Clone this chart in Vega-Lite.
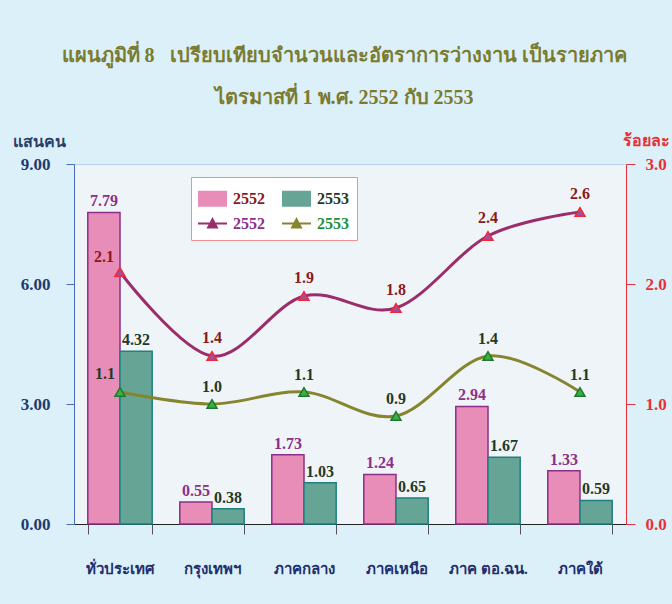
{
  "$schema": "https://vega.github.io/schema/vega-lite/v6.json",
  "width": 552,
  "height": 360,
  "autosize": {"type": "none"},
  "padding": {"left": 74, "top": 164, "right": 46, "bottom": 80},
  "background": "#DBF0F8",
  "config": {"view": {"fill": "#EFF4F9", "stroke": "#B8D4EC"}, "font": "Liberation Serif, serif"},
  "title": {
    "text": ["แผนภูมิที่ 8 \u00a0 เปรียบเทียบจำนวนและอัตราการว่างงาน เป็นรายภาค", "ไตรมาสที่ 1 พ.ศ. 2552 กับ 2553"],
    "color": "#7B7B2F",
    "fontSize": 20,
    "fontWeight": "bold",
    "font": "Liberation Serif, serif",
    "lineHeight": 42,
    "anchor": "middle",
    "dx": -6,
    "offset": 24
  },
  "data": {
    "values": [
      {"region": "ทั่วประเทศ", "year": "2552", "count": 7.79, "rate": 2.1, "bar": "bar 2552", "line": "line 2552"},
      {"region": "ทั่วประเทศ", "year": "2553", "count": 4.32, "rate": 1.1, "bar": "bar 2553", "line": "line 2553"},
      {"region": "กรุงเทพฯ", "year": "2552", "count": 0.55, "rate": 1.4, "bar": "bar 2552", "line": "line 2552"},
      {"region": "กรุงเทพฯ", "year": "2553", "count": 0.38, "rate": 1.0, "bar": "bar 2553", "line": "line 2553"},
      {"region": "ภาคกลาง", "year": "2552", "count": 1.73, "rate": 1.9, "bar": "bar 2552", "line": "line 2552"},
      {"region": "ภาคกลาง", "year": "2553", "count": 1.03, "rate": 1.1, "bar": "bar 2553", "line": "line 2553"},
      {"region": "ภาคเหนือ", "year": "2552", "count": 1.24, "rate": 1.8, "bar": "bar 2552", "line": "line 2552"},
      {"region": "ภาคเหนือ", "year": "2553", "count": 0.65, "rate": 0.9, "bar": "bar 2553", "line": "line 2553"},
      {"region": "ภาค ตอ.ฉน.", "year": "2552", "count": 2.94, "rate": 2.4, "bar": "bar 2552", "line": "line 2552"},
      {"region": "ภาค ตอ.ฉน.", "year": "2553", "count": 1.67, "rate": 1.4, "bar": "bar 2553", "line": "line 2553"},
      {"region": "ภาคใต้", "year": "2552", "count": 1.33, "rate": 2.6, "bar": "bar 2552", "line": "line 2552"},
      {"region": "ภาคใต้", "year": "2553", "count": 0.59, "rate": 1.1, "bar": "bar 2553", "line": "line 2553"}
    ]
  },
  "encoding": {
    "x": {
      "field": "region",
      "type": "nominal",
      "scale": {"domain": ["ทั่วประเทศ", "กรุงเทพฯ", "ภาคกลาง", "ภาคเหนือ", "ภาค ตอ.ฉน.", "ภาคใต้"], "paddingInner": 0.3, "paddingOuter": 0.15},
      "axis": {
        "title": null,
        "labelAngle": 0,
        "tickBand": "extent",
        "domainColor": "#222222",
        "tickColor": "#555555",
        "tickSize": 10,
        "labelFontSize": 15,
        "labelFontWeight": "bold",
        "labelColor": "#1F2F6E",
        "labelPadding": 27
      }
    }
  },
  "layer": [
    {
      "encoding": {
        "y": {
          "field": "count",
          "type": "quantitative",
          "scale": {"domain": [0, 9]},
          "axis": {
            "orient": "left",
            "values": [0, 3, 6, 9],
            "format": ".2f",
            "grid": false,
            "title": "แสนคน",
            "titleAngle": 0,
            "titleX": -62,
            "titleY": -18,
            "titleAlign": "left",
            "titleBaseline": "alphabetic",
            "titleColor": "#2A3F6A",
            "titleFontSize": 16,
            "titleFontWeight": "bold",
            "domainColor": "#4A6CC0",
            "tickColor": "#4A6CC0",
            "tickSize": 8,
            "labelPadding": 16,
            "labelColor": "#1F3A6E",
            "labelFontSize": 17,
            "labelFontWeight": "bold"
          }
        },
        "xOffset": {"field": "year", "type": "nominal", "scale": {"domain": ["2552", "2553"], "paddingInner": 0}}
      },
      "layer": [
        {
          "mark": {"type": "bar", "strokeWidth": 1.5},
          "encoding": {
            "color": {
              "field": "bar",
              "type": "nominal",
              "scale": {"domain": ["bar 2552", "bar 2553", "line 2552", "line 2553"], "range": ["#E88DB8", "#66A596", "#9B2D6B", "#85852E"]},
              "legend": {
                "title": null,
                "orient": "none",
                "legendX": 117,
                "legendY": 13,
                "direction": "horizontal",
                "columns": 2,
                "columnPadding": 13,
                "rowPadding": 0,
                "padding": 8,
                "fillColor": "#FFFFFF",
                "strokeColor": "#F09090",
                "labelFontSize": 16,
                "labelFontWeight": "bold",
                "labelOffset": 7,
                "symbolSize": 625,
                "symbolStrokeWidth": 2,
                "labelExpr": "slice(datum.label, -4)",
                "encode": {
                  "symbols": {
                    "update": {
                      "shape": {"signal": "indexof(datum.value, 'bar') === 0 ? 'M-1.08,-0.56H1.08V0.56H-1.08Z' : 'M-1.16,0H1.16M-0.35,0.32L0,-0.34L0.35,0.32Z'"},
                      "fill": {"signal": "datum.value === 'bar 2552' ? '#E88DB8' : datum.value === 'bar 2553' ? '#66A596' : datum.value === 'line 2552' ? '#A050A0' : '#3CB043'"},
                      "stroke": {"signal": "datum.value === 'bar 2552' ? '#8B2F8B' : datum.value === 'bar 2553' ? '#1E8080' : datum.value === 'line 2552' ? '#9B2D6B' : '#85852E'"}
                    }
                  },
                  "labels": {
                    "update": {
                      "fill": {"signal": "datum.value === 'bar 2552' ? '#8B1A1A' : datum.value === 'bar 2553' ? '#1E3A28' : datum.value === 'line 2552' ? '#8B2F8B' : '#1E9040'"}
                    }
                  }
                }
              }
            },
            "stroke": {
              "field": "bar",
              "type": "nominal",
              "scale": {"domain": ["bar 2552", "bar 2553"], "range": ["#8B2F8B", "#1E8080"]},
              "legend": null
            }
          }
        },
        {
          "transform": [{"filter": "datum.year == '2552'"}],
          "mark": {"type": "text", "baseline": "alphabetic", "dy": -6, "fontSize": 16, "fontWeight": "bold", "color": "#8B2F8B"},
          "encoding": {"text": {"field": "count", "type": "quantitative", "format": ".2f"}}
        },
        {
          "transform": [{"filter": "datum.year == '2553'"}],
          "mark": {"type": "text", "baseline": "alphabetic", "dy": -6, "fontSize": 16, "fontWeight": "bold", "color": "#1E3A28"},
          "encoding": {"text": {"field": "count", "type": "quantitative", "format": ".2f"}}
        }
      ]
    },
    {
      "encoding": {
        "y": {
          "field": "rate",
          "type": "quantitative",
          "scale": {"domain": [0, 3]},
          "axis": {
            "orient": "right",
            "values": [0, 1, 2, 3],
            "format": ".1f",
            "grid": false,
            "title": "ร้อยละ",
            "titleAngle": 0,
            "titleX": -4,
            "titleY": -19,
            "titleAlign": "left",
            "titleBaseline": "alphabetic",
            "titleColor": "#E8303A",
            "titleFontSize": 16,
            "titleFontWeight": "bold",
            "domainColor": "#E8303A",
            "tickColor": "#E8303A",
            "tickSize": 9,
            "labelPadding": 10,
            "labelColor": "#E8303A",
            "labelFontSize": 17,
            "labelFontWeight": "bold"
          }
        }
      },
      "layer": [
        {
          "mark": {"type": "line", "strokeWidth": 3, "interpolate": "cardinal"},
          "encoding": {
            "color": {
              "field": "line",
              "type": "nominal",
              "scale": {"domain": ["bar 2552", "bar 2553", "line 2552", "line 2553"], "range": ["#E88DB8", "#66A596", "#9B2D6B", "#85852E"]}
            }
          }
        },
        {
          "transform": [{"filter": "datum.year == '2552'"}],
          "mark": {"type": "point", "shape": "triangle-up", "size": 100, "filled": true, "fill": "#A050A0", "stroke": "#F02838", "strokeWidth": 1.5, "opacity": 1}
        },
        {
          "transform": [{"filter": "datum.year == '2553'"}],
          "mark": {"type": "point", "shape": "triangle-up", "size": 100, "filled": true, "fill": "#3CB043", "stroke": "#1E7A30", "strokeWidth": 1.5, "opacity": 1}
        },
        {
          "transform": [{"filter": "datum.year == '2552' && datum.region != 'ทั่วประเทศ'"}],
          "mark": {"type": "text", "baseline": "alphabetic", "dy": -13, "fontSize": 16, "fontWeight": "bold", "color": "#8B1A1A"},
          "encoding": {"text": {"field": "rate", "type": "quantitative", "format": ".1f"}}
        },
        {
          "transform": [{"filter": "datum.year == '2552' && datum.region == 'ทั่วประเทศ'"}],
          "mark": {"type": "text", "baseline": "alphabetic", "dx": -16, "dy": -10, "fontSize": 16, "fontWeight": "bold", "color": "#8B1A1A"},
          "encoding": {"text": {"field": "rate", "type": "quantitative", "format": ".1f"}}
        },
        {
          "transform": [{"filter": "datum.year == '2553' && datum.region != 'ทั่วประเทศ'"}],
          "mark": {"type": "text", "baseline": "alphabetic", "dy": -12, "fontSize": 16, "fontWeight": "bold", "color": "#1E3A28"},
          "encoding": {"text": {"field": "rate", "type": "quantitative", "format": ".1f"}}
        },
        {
          "transform": [{"filter": "datum.year == '2553' && datum.region == 'ทั่วประเทศ'"}],
          "mark": {"type": "text", "baseline": "alphabetic", "dx": -15, "dy": -13, "fontSize": 16, "fontWeight": "bold", "color": "#1E3A28"},
          "encoding": {"text": {"field": "rate", "type": "quantitative", "format": ".1f"}}
        }
      ]
    }
  ],
  "resolve": {"scale": {"y": "independent"}}
}
